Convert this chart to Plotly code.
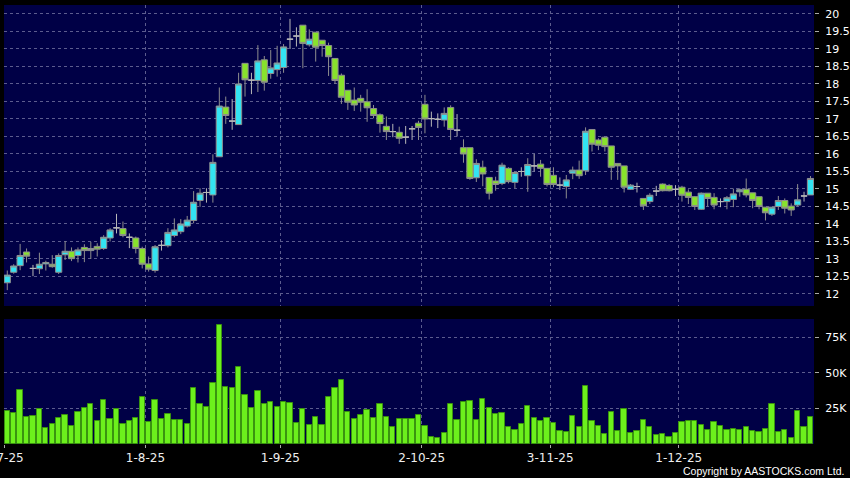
import pandas as pd
import plotly.graph_objects as go
from plotly.subplots import make_subplots

# trading days 2 Jul - 31 Dec 2025 (HK holidays removed)
HOLIDAYS = ["2025-10-01", "2025-10-07", "2025-10-29", "2025-12-25", "2025-12-26"]
dates = [d for d in pd.bdate_range("2025-07-02", "2025-12-31")
         if d.strftime("%Y-%m-%d") not in HOLIDAYS]

open_ = [12.32, 12.62, 12.81, 13.20, 12.73, 12.72, 12.86, 12.85, 12.62, 13.12,
         13.22, 13.10, 13.33, 13.24, 13.36, 13.30, 13.60, 13.89, 13.87, 13.62,
         13.60, 13.30, 12.86, 12.67, 13.39, 13.38, 13.67, 13.78, 13.94, 14.10,
         14.67, 14.90, 14.83, 15.92, 17.34, 16.94, 16.84, 18.59, 18.11, 18.10,
         18.69, 18.30, 18.41, 18.47, 19.28, 19.37, 19.68, 19.12, 19.48, 19.25,
         19.10, 18.73, 18.25, 17.82, 17.54, 17.59, 17.49, 17.30, 17.12, 16.79,
         16.64, 16.62, 16.48, 16.72, 16.88, 17.42, 17.01, 16.99, 16.97, 17.33,
         16.68, 16.18, 16.18, 15.32, 15.62, 15.33, 15.23, 15.16, 15.59, 15.19,
         15.50, 15.38, 15.66, 15.71, 15.59, 15.39, 15.11, 15.07, 15.45, 15.54,
         15.52, 16.70, 16.40, 16.48, 16.23, 15.73, 15.66, 14.99, 15.07, 14.73,
         14.64, 14.94, 15.14, 15.10, 14.99, 15.05, 14.91, 14.78, 14.42, 14.88,
         14.76, 14.64, 14.64, 14.70, 14.92, 14.99, 14.89, 14.78, 14.48, 14.28,
         14.50, 14.67, 14.51, 14.54, 14.80, 14.83]
high = [12.67, 12.85, 13.43, 13.30, 12.83, 13.18, 12.95, 13.11, 13.16, 13.51,
        13.33, 13.33, 13.42, 13.49, 13.45, 13.68, 13.88, 14.29, 14.07, 13.73,
        13.64, 13.35, 13.07, 13.40, 13.54, 13.88, 14.16, 14.14, 14.23, 14.94,
        15.02, 15.02, 15.99, 17.90, 17.64, 17.57, 18.32, 18.59, 18.32, 19.11,
        18.80, 18.97, 19.09, 19.14, 19.86, 19.62, 19.68, 19.56, 19.48, 19.25,
        19.18, 18.73, 18.30, 17.82, 17.90, 17.69, 17.85, 17.40, 17.16, 17.07,
        16.86, 16.78, 16.80, 16.80, 16.95, 17.69, 17.21, 17.16, 17.33, 17.39,
        17.14, 16.42, 16.18, 15.85, 15.81, 15.33, 15.35, 15.75, 15.62, 15.50,
        15.62, 15.88, 16.00, 15.83, 15.59, 15.62, 15.33, 15.40, 15.64, 15.81,
        16.76, 16.70, 16.45, 16.48, 16.23, 15.73, 15.66, 15.14, 15.18, 14.73,
        14.88, 15.09, 15.16, 15.14, 15.11, 15.09, 14.99, 14.80, 14.90, 14.88,
        14.88, 14.73, 14.80, 15.01, 15.02, 15.30, 14.89, 14.78, 14.48, 14.48,
        14.80, 14.73, 14.59, 15.14, 14.92, 15.37]
low = [12.11, 12.58, 12.68, 12.90, 12.51, 12.57, 12.67, 12.75, 12.57, 12.97,
       12.94, 12.90, 12.91, 13.00, 13.07, 13.26, 13.50, 13.73, 13.62, 13.31,
       13.16, 12.73, 12.64, 12.61, 13.24, 13.33, 13.62, 13.71, 13.90, 14.02,
       14.49, 14.61, 14.61, 15.92, 16.86, 16.69, 16.84, 17.64, 17.71, 17.77,
       17.81, 18.15, 18.21, 18.32, 19.00, 19.07, 18.45, 19.07, 18.64, 18.78,
       18.23, 18.00, 17.43, 17.26, 17.23, 17.21, 16.92, 17.02, 16.61, 16.40,
       16.48, 16.29, 16.29, 16.40, 16.40, 16.59, 16.78, 16.74, 16.78, 16.40,
       16.50, 15.75, 15.26, 15.20, 15.08, 14.70, 14.95, 15.11, 15.16, 15.02,
       15.35, 14.92, 15.50, 15.35, 15.07, 15.05, 14.97, 14.73, 15.28, 15.29,
       15.40, 16.07, 16.11, 16.07, 15.26, 15.26, 14.90, 14.97, 14.90, 14.40,
       14.57, 14.80, 14.93, 14.93, 14.80, 14.64, 14.57, 14.40, 14.40, 14.50,
       14.42, 14.48, 14.42, 14.48, 14.78, 14.76, 14.45, 14.42, 14.10, 14.23,
       14.40, 14.30, 14.23, 14.50, 14.64, 14.83]
close = [12.54, 12.80, 13.10, 13.08, 12.73, 12.85, 12.90, 12.78, 13.10, 13.22,
         13.01, 13.26, 13.24, 13.30, 13.28, 13.62, 13.83, 13.89, 13.67, 13.62,
         13.30, 12.85, 12.71, 13.35, 13.39, 13.76, 13.83, 14.00, 14.11, 14.62,
         14.88, 14.90, 15.76, 17.37, 17.10, 16.94, 18.00, 18.12, 18.11, 18.66,
         18.05, 18.46, 18.60, 19.06, 19.28, 19.37, 19.16, 19.28, 19.05, 19.10,
         18.78, 18.10, 17.62, 17.48, 17.40, 17.48, 17.32, 17.10, 16.87, 16.64,
         16.64, 16.45, 16.48, 16.72, 16.76, 17.00, 17.01, 16.99, 17.16, 16.70,
         16.68, 16.00, 15.30, 15.73, 15.43, 14.88, 15.13, 15.68, 15.21, 15.47,
         15.50, 15.70, 15.66, 15.59, 15.13, 15.13, 15.11, 15.26, 15.54, 15.38,
         16.65, 16.28, 16.25, 16.21, 15.62, 15.66, 15.05, 15.11, 15.07, 14.52,
         14.82, 14.94, 14.95, 14.95, 14.99, 14.82, 14.76, 14.50, 14.88, 14.73,
         14.54, 14.64, 14.75, 14.86, 14.98, 14.83, 14.67, 14.50, 14.32, 14.48,
         14.67, 14.45, 14.40, 14.69, 14.80, 15.30]
volume = [23200, 22100, 38000, 18800, 19700, 24600, 11300, 14300, 18100, 20200,
          12400, 22300, 25100, 27900, 16400, 30700, 17800, 24400, 14300, 16000,
          18100, 33100, 15300, 30700, 17600, 21400, 17100, 17100, 14100, 39700,
          27900, 26100, 43200, 83800, 39900, 39700, 54500, 34700, 25600, 37100,
          27900, 29800, 25800, 29600, 28600, 14600, 24600, 13400, 19200, 13100,
          33100, 39400, 45100, 22300, 17400, 20400, 23900, 18500, 27900, 19000,
          12000, 17400, 17400, 17400, 20700, 12700, 4900, 4200, 7500, 28400,
          17100, 29600, 30500, 16700, 31700, 25300, 21100, 21800, 11700, 10100,
          13800, 26500, 18100, 16200, 18300, 14800, 9200, 8200, 19500, 12200,
          40600, 16000, 12400, 7300, 22300, 9200, 24400, 7500, 8900, 16700,
          12000, 6300, 6800, 5200, 7500, 15300, 16000, 16000, 13100, 9900,
          15700, 12900, 9900, 10600, 9900, 11700, 8900, 8400, 10600, 28400,
          8400, 9600, 4500, 23200, 11700, 19000]

df = pd.DataFrame({"date": dates, "open": open_, "high": high, "low": low,
                   "close": close, "volume": volume})
df["pos"] = range(len(df))

# month boundaries -> gridlines / tick labels
firsts = df.groupby(df["date"].dt.month)["pos"].min()
tick_pos = [p - 0.5 for p in firsts]
tick_txt = [f"{d.day}-{d.month}-{d.strftime('%y')}" for d in df.loc[firsts, "date"]]

NAVY = "#000046"
GRID = "#5c5c8e"
WICK = "#8e8e8e"

fig = make_subplots(rows=2, cols=1, shared_xaxes=True)

groups = [
    (df[df["close"] > df["open"]], "#33e3f2", WICK),
    (df[df["close"] < df["open"]], "#88e22c", WICK),
    (df[df["close"] == df["open"]], "#b8b8b8", "#b8b8b8"),
]
for d, fill, line in groups:
    fig.add_trace(go.Candlestick(
        x=d["pos"], open=d["open"], high=d["high"], low=d["low"], close=d["close"],
        increasing=dict(fillcolor=fill, line=dict(color=line, width=1)),
        decreasing=dict(fillcolor=fill, line=dict(color=line, width=1)),
        whiskerwidth=0, showlegend=False, hoverinfo="skip",
    ), row=1, col=1)

fig.add_trace(go.Bar(
    x=df["pos"], y=df["volume"], width=0.82,
    marker=dict(color="#6cf01c", line=dict(color="#3a9410", width=1)),
    showlegend=False, hoverinfo="skip",
), row=2, col=1)

xr = [-0.51, 125.55]
grid = dict(showgrid=True, gridcolor=GRID, griddash="3px,3px", gridwidth=1,
            zeroline=False, showline=False, automargin=False)
fig.update_layout(
    width=850, height=478,
    margin=dict(l=4, r=36, t=5, b=34),
    paper_bgcolor="#000000", plot_bgcolor=NAVY,
    font=dict(family="DejaVu Sans", color="#ffffff", size=11),
    boxgap=0.04, boxgroupgap=0, bargap=0,
    xaxis=dict(domain=[0, 1], range=xr, rangeslider=dict(visible=False),
               tickvals=tick_pos, showticklabels=False, ticks="", **grid),
    xaxis2=dict(domain=[0, 1], range=xr, rangeslider=dict(visible=False),
                tickvals=tick_pos, ticktext=tick_txt, ticks="outside", ticklen=3,
                tickcolor="#aaaaaa", tickfont=dict(size=12, color="#eeeeee"),
                ticklabeloverflow="allow", **grid),
    yaxis=dict(domain=[0.3144, 1], range=[11.657, 20.257], side="right",
               tick0=12, dtick=0.5, ticks="outside", ticklen=4, tickcolor="#aaaaaa",
               ticklabelstandoff=4, **grid),
    yaxis2=dict(domain=[0, 0.2847], range=[0, 88000], side="right",
                tickvals=[25000, 50000, 75000], ticktext=["25K", "50K", "75K"],
                ticks="outside", ticklen=4, tickcolor="#aaaaaa", ticklabelstandoff=4,
                **grid),
)

fig.add_annotation(text="Copyright by AASTOCKS.com Ltd.", xref="paper", yref="paper",
                   x=1, y=0, xanchor="right", yanchor="middle", xshift=32, yshift=-27,
                   showarrow=False,
                   font=dict(family="Liberation Sans", size=10.5, color="#ffffff"))

fig.write_html("out.html", config={"displayModeBar": False},
               post_script="document.body.style.margin='0';")
